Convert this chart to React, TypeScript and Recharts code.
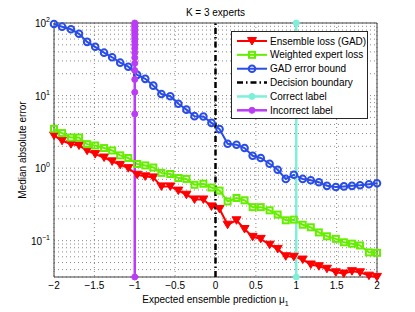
import React from "react";
import { LineChart, Line, XAxis, YAxis, CartesianGrid, ReferenceArea } from "recharts";

// expected ensemble prediction (40 samples between -2 and 2)
const xValues = [
  -2, -1.9, -1.79, -1.69, -1.59, -1.49, -1.38, -1.28, -1.18, -1.08,
  -0.97, -0.87, -0.77, -0.67, -0.56, -0.46, -0.36, -0.26, -0.15, -0.05,
  0.05, 0.15, 0.26, 0.36, 0.46, 0.56, 0.67, 0.77, 0.87, 0.97,
  1.08, 1.18, 1.28, 1.38, 1.49, 1.59, 1.69, 1.79, 1.9, 2,
];
const gadLoss = [
  2.82, 2.38, 2.14, 2.05, 1.74, 1.56, 1.4, 1.24, 1.11, 1.0,
  0.81, 0.77, 0.745, 0.56, 0.56, 0.49, 0.43, 0.37, 0.37, 0.297,
  0.274, 0.166, 0.191, 0.145, 0.113, 0.106, 0.088, 0.077, 0.061, 0.06,
  0.055, 0.047, 0.0445, 0.041, 0.0367, 0.0353, 0.038, 0.0367, 0.033, 0.0317,
];
const weightedLoss = [
  3.48, 3.04, 2.64, 2.64, 2.14, 2.05, 1.89, 1.75, 1.5, 1.38,
  1.14, 1.09, 1.02, 0.86, 0.83, 0.73, 0.71, 0.59, 0.61, 0.54,
  0.49, 0.348, 0.388, 0.36, 0.29, 0.29, 0.262, 0.229, 0.191, 0.195,
  0.166, 0.153, 0.13, 0.115, 0.106, 0.095, 0.091, 0.086, 0.069, 0.068,
];
const gadBound = [
  97, 89, 82, 71, 55, 47, 39, 33.7, 28.4, 25,
  19.3, 17, 13.7, 10.5, 9.8, 7.7, 6.4, 5.2, 5.15, 4.2,
  3.45, 2.17, 2.1, 1.89, 1.48, 1.38, 1.15, 0.95, 0.71, 0.81,
  0.71, 0.68, 0.64, 0.57, 0.55, 0.56, 0.57, 0.58, 0.6, 0.62,
];
const boundaryY = [0.0316, 100];
const correctY = [0.0316, 100];
const incorrectY = [
  0.0316, 5.58, 11.1, 16.7, 22.2, 27.8, 33.3, 38.9, 44.5, 50,
  55.6, 61.1, 66.7, 72.2, 77.8, 83.3, 88.9, 94.4, 100,
];
const xTicks = [-2, -1.5, -1, -0.5, 0, 0.5, 1, 1.5, 2];
const yTicks = [
  0.04, 0.05, 0.06, 0.07, 0.08, 0.09,
  0.1, 0.2, 0.3, 0.4, 0.5, 0.6, 0.7, 0.8, 0.9,
  1, 2, 3, 4, 5, 6, 7, 8, 9,
  10, 20, 30, 40, 50, 60, 70, 80, 90, 100,
];

const W = 415;
const H = 312;
const Y_MIN = 0.0316;
const FONT = '"Liberation Sans", Arial, Helvetica, sans-serif';

type Kind = "tri" | "square" | "circle" | "dot" | "none";

const series: { name: string; color: string; kind: Kind; width: number; dash?: string; data: { x: number; y: number }[] }[] = [
  { name: "Ensemble loss (GAD)", color: "#ff0000", kind: "tri", width: 2, data: xValues.map((x, i) => ({ x, y: gadLoss[i] })) },
  { name: "Weighted expert loss", color: "#66ee00", kind: "square", width: 2, data: xValues.map((x, i) => ({ x, y: weightedLoss[i] })) },
  { name: "GAD error bound", color: "#2a4de6", kind: "circle", width: 2, data: xValues.map((x, i) => ({ x, y: gadBound[i] })) },
  { name: "Decision boundary", color: "#000000", kind: "none", width: 2.5, dash: "6 3 1.5 3", data: boundaryY.map((y) => ({ x: 0, y })) },
  { name: "Correct label", color: "#7ff0d8", kind: "dot", width: 2.5, data: correctY.map((y) => ({ x: 1, y })) },
  { name: "Incorrect label", color: "#bb3cf5", kind: "dot", width: 2.5, data: incorrectY.map((y) => ({ x: -1, y })) },
];

function Marker({ kind, cx, cy, color }: { kind: Kind; cx: number; cy: number; color: string }) {
  if (kind === "tri")
    return <polygon points={`${cx - 4.5},${cy - 3.5} ${cx + 4.5},${cy - 3.5} ${cx},${cy + 4}`} fill={color} stroke={color} strokeWidth={1} />;
  if (kind === "square")
    return <rect x={cx - 3} y={cy - 3} width={6} height={6} fill="none" stroke={color} strokeWidth={2} />;
  if (kind === "circle") return <circle cx={cx} cy={cy} r={3.3} fill="none" stroke={color} strokeWidth={2} />;
  if (kind === "dot") return <circle cx={cx} cy={cy} r={3} fill={color} stroke={color} strokeWidth={1} />;
  return <g />;
}

function XTick(props: any) {
  const v = props.payload.value;
  const s = v < 0 ? "\u2212" + Math.abs(v) : String(v);
  return (
    <text x={props.x} y={props.y} dy={4} textAnchor="middle" fontSize={10} fontFamily={FONT} fill="#000">
      {s}
    </text>
  );
}

function YTick(props: any) {
  const v = props.payload.value;
  const lg = Math.log10(v);
  const e = Math.round(lg);
  if (Math.abs(lg - e) > 1e-6) return <g />;
  return (
    <text x={props.x} y={props.y} dy={4} textAnchor="end" fontSize={10} fontFamily={FONT} fill="#000">
      10
      <tspan dy={-5} fontSize={7}>
        {e < 0 ? "\u2212" + Math.abs(e) : String(e)}
      </tspan>
    </text>
  );
}

function Legend() {
  return (
    <div
      style={{
        position: "absolute",
        left: 231,
        top: 31,
        width: 137,
        height: 88,
        background: "#fff",
        border: "1px solid #262626",
        boxSizing: "border-box",
      }}
    >
      <svg width={135} height={86} style={{ display: "block" }}>
        {series.map((s, i) => {
          const cy = 9 + i * 13.86;
          return (
            <g key={s.name}>
              <line x1={5} x2={35} y1={cy} y2={cy} stroke={s.color} strokeWidth={s.width} strokeDasharray={s.dash} />
              <Marker kind={s.kind} cx={20} cy={cy} color={s.color} />
              <text x={38} y={cy + 3.5} fontSize={10} fontFamily={FONT} fill="#000">
                {s.name}
              </text>
            </g>
          );
        })}
      </svg>
    </div>
  );
}

export default function App() {
  return (
    <div style={{ position: "absolute", left: 0, top: 0, width: W, height: H, background: "#fff" }}>
      <LineChart width={W} height={H} margin={{ top: 23, right: 38, bottom: 5, left: 14 }}>
        <CartesianGrid stroke="#8a8a8a" strokeDasharray="1 3" />
        <XAxis
          dataKey="x"
          type="number"
          domain={[-2, 2]}
          ticks={xTicks}
          tick={(p: any) => <XTick {...p} />}
          tickSize={0}
          tickMargin={8}
          height={30}
          axisLine={false}
          tickLine={false}
          allowDuplicatedCategory={false}
        />
        <YAxis
          type="number"
          scale="log"
          domain={[Y_MIN, 100]}
          ticks={yTicks}
          tick={(p: any) => <YTick {...p} />}
          tickSize={0}
          tickMargin={4}
          width={40}
          axisLine={false}
          tickLine={false}
          interval={0}
        />
        <ReferenceArea x1={-2} x2={2} y1={Y_MIN} y2={100} fill="none" stroke="#404040" strokeWidth={1} />
        {series.map((s) => (
          <Line
            key={s.name}
            data={s.data}
            dataKey="y"
            type="linear"
            stroke={s.color}
            strokeWidth={s.width}
            strokeDasharray={s.dash}
            isAnimationActive={false}
            dot={(p: any) => <Marker key={`${s.name}-${p.index}`} kind={s.kind} cx={p.cx} cy={p.cy} color={s.color} />}
            activeDot={false}
          />
        ))}
        <text x={215.5} y={16} textAnchor="middle" fontSize={10} fontFamily={FONT} fill="#000">
          K = 3 experts
        </text>
        <text x={215.5} y={303} textAnchor="middle" fontSize={10} fontFamily={FONT} fill="#000">
          Expected ensemble prediction μ<tspan dy={3} fontSize={7}>1</tspan>
        </text>
        <text transform="translate(26, 150) rotate(-90)" textAnchor="middle" fontSize={10} fontFamily={FONT} fill="#000">
          Median absolute error
        </text>
      </LineChart>
      <Legend />
    </div>
  );
}
